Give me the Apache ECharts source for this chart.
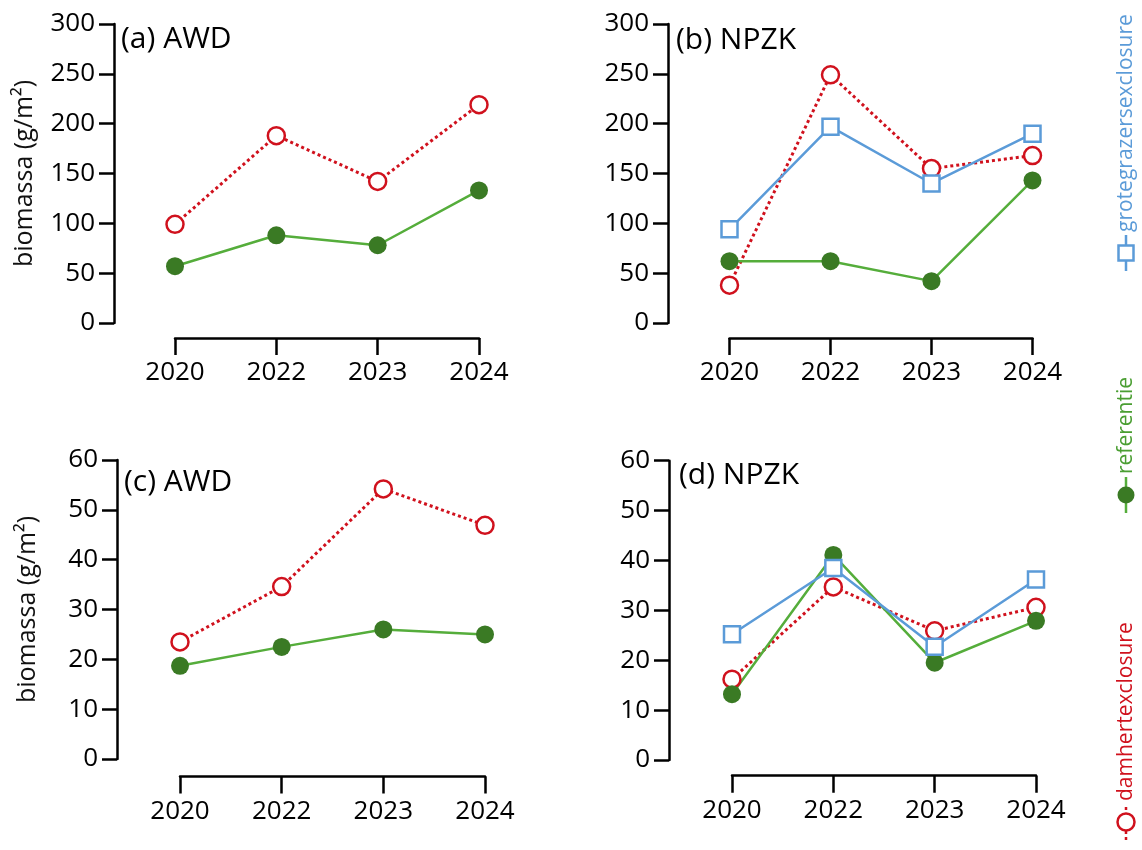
<!DOCTYPE html>
<html><head><meta charset="utf-8">
<script src="https://cdn.jsdelivr.net/npm/echarts/dist/echarts.min.js"></script>
<style>html,body{margin:0;padding:0;background:#fff}#c{width:1142px;height:850px}</style>
</head><body><div id="c"></div>
<script>
// ---- data ----
const years = ['2020', '2022', '2023', '2024'];
const seriesNames = ['grotegrazersexclosure', 'referentie', 'damhertexclosure'];
const panelTitles = ['(a) AWD', '(b) NPZK', '(c) AWD', '(d) NPZK'];
const yAxisName = 'biomassa (g/m²)';
const topYMax = 300, topYStep = 50;
const bottomYMax = 60, bottomYStep = 10;
// (a) AWD
const aDamhert = [99, 188, 142, 219];
const aReferentie = [57, 88, 78, 133];
// (b) NPZK
const bGrote = [94, 197, 140, 190];
const bDamhert = [38, 249, 155, 168];
const bReferentie = [62, 62, 42, 143];
// (c) AWD
const cDamhert = [23.5, 34.6, 54.2, 46.9];
const cReferentie = [18.7, 22.5, 26.0, 25.0];
// (d) NPZK
const dGrote = [25.2, 38.5, 22.7, 36.2];
const dDamhert = [16.2, 34.7, 25.9, 30.6];
const dReferentie = [13.2, 41.1, 19.5, 27.9];

// ---- styles ----
const FONT = 'Open Sans';
const RED = '#d0111d', GREEN_LINE = '#55ad3b', GREEN_DOT = '#3a7a24', BLUE = '#5b9bd8';
const styleOf = {
  grotegrazersexclosure: {
    symbol: 'rect', symbolSize: 16,
    lineStyle: { color: BLUE, width: 2.5 },
    itemStyle: { color: '#fff', borderColor: BLUE, borderWidth: 2.5 }
  },
  referentie: {
    symbol: 'circle', symbolSize: 18,
    lineStyle: { color: GREEN_LINE, width: 2.5 },
    itemStyle: { color: GREEN_DOT, borderWidth: 0 }
  },
  damhertexclosure: {
    symbol: 'circle', symbolSize: 17,
    lineStyle: { color: RED, width: 3, type: [3, 3] },
    itemStyle: { color: '#fff', borderColor: RED, borderWidth: 2.5 }
  }
};
const legendColor = { grotegrazersexclosure: BLUE, referentie: '#4a9e32', damhertexclosure: RED };

// ---- layout ----
const grids = [
  { left: 175, top: 24, width: 304, height: 299, yOff: 61, xOff: 15 },
  { left: 729.5, top: 24, width: 303, height: 299, yOff: 61.5, xOff: 15 },
  { left: 180, top: 460, width: 305, height: 299, yOff: 63, xOff: 17.5 },
  { left: 732, top: 460.7, width: 304, height: 299.3, yOff: 63, xOff: 15.7 }
];
const titlePos = [{ x: 121, y: 39 }, { x: 676, y: 40 }, { x: 124, y: 482 }, { x: 679, y: 475 }];

const panels = [
  { max: topYMax, step: topYStep, name: true, data: { damhertexclosure: aDamhert, referentie: aReferentie } },
  { max: topYMax, step: topYStep, name: false, data: { damhertexclosure: bDamhert, referentie: bReferentie, grotegrazersexclosure: bGrote } },
  { max: bottomYMax, step: bottomYStep, name: true, data: { damhertexclosure: cDamhert, referentie: cReferentie } },
  { max: bottomYMax, step: bottomYStep, name: false, data: { damhertexclosure: dDamhert, referentie: dReferentie, grotegrazersexclosure: dGrote } }
];

const axisLine = { show: true, onZero: false, lineStyle: { color: '#000', width: 2.5 } };
const option = {
  animation: false,
  backgroundColor: '#fff',
  grid: [], xAxis: [], yAxis: [], series: [], title: [], graphic: []
};

panels.forEach((p, i) => {
  const g = grids[i];
  option.grid.push({ left: g.left, top: g.top, width: g.width, height: g.height, containLabel: false, outerBoundsMode: 'none' });
  option.xAxis.push({
    type: 'category', gridIndex: i, data: years, boundaryGap: false, offset: g.xOff,
    axisLine: axisLine,
    axisTick: { show: true, length: 17, lineStyle: { color: '#000', width: 2.5 } },
    axisLabel: { margin: 22, fontSize: 26, fontFamily: FONT, color: '#000' },
    splitLine: { show: false }
  });
  option.yAxis.push({
    type: 'value', gridIndex: i, min: 0, max: p.max, interval: p.step, offset: g.yOff,
    name: p.name ? yAxisName : '', nameLocation: 'middle', nameGap: 77,
    nameTextStyle: { fontSize: 25, fontFamily: FONT, color: '#111' },
    axisLine: axisLine,
    axisTick: { show: true, length: 15, lineStyle: { color: '#000', width: 2.5 } },
    axisLabel: { margin: 19, fontSize: 26, fontFamily: FONT, color: '#000' },
    splitLine: { show: false }
  });
  ['damhertexclosure', 'referentie', 'grotegrazersexclosure'].forEach(nm => {
    if (!p.data[nm]) return;
    const s = styleOf[nm];
    option.series.push({
      type: 'line', name: nm, xAxisIndex: i, yAxisIndex: i, data: p.data[nm],
      symbol: s.symbol, symbolSize: s.symbolSize, showSymbol: true,
      lineStyle: s.lineStyle, itemStyle: s.itemStyle, emphasis: { disabled: true }
    });
  });
  option.title.push({
    text: panelTitles[i], left: titlePos[i].x, top: titlePos[i].y - 18, padding: 0,
    textStyle: { fontSize: 30, fontWeight: 'normal', fontFamily: FONT, color: '#000', lineHeight: 36 }
  });
});

// rotated legend on the right
const legendY = [253, 495, 822];
seriesNames.forEach((nm, i) => {
  const s = styleOf[nm];
  const c = s.lineStyle.color;
  const marker = s.symbol === 'rect'
    ? { type: 'rect', shape: { x: -7.5, y: -7.5, width: 15, height: 15 }, style: { fill: '#fff', stroke: c, lineWidth: 2.5 } }
    : { type: 'circle', shape: { cx: 0, cy: 0, r: 8.5 }, style: { fill: s.itemStyle.color, stroke: s.itemStyle.borderColor || s.itemStyle.color, lineWidth: s.itemStyle.borderWidth || 0 } };
  option.graphic.push({
    type: 'group', x: 1126, y: legendY[i], rotation: Math.PI / 2,
    children: [
      { type: 'line', shape: { x1: -18, y1: 0, x2: 18, y2: 0 }, style: { stroke: c, lineWidth: 2.5, lineDash: nm === 'damhertexclosure' ? [3, 3] : null } },
      marker,
      { type: 'text', x: 21, y: 0, style: { text: nm, fill: legendColor[nm], fontSize: 21, fontFamily: FONT, verticalAlign: 'middle', align: 'left' } }
    ]
  });
});

const chart = echarts.init(document.getElementById('c'), null, { renderer: 'canvas' });
chart.setOption(option);
</script>
</body></html>
